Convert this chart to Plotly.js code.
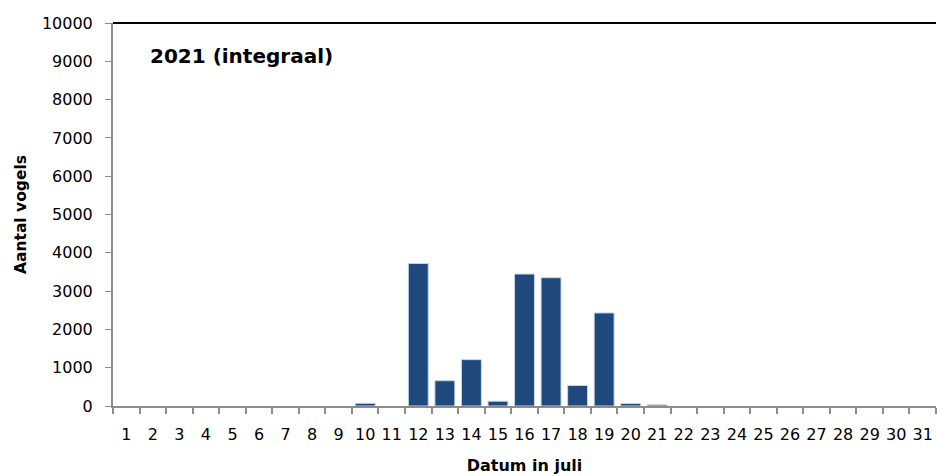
<!DOCTYPE html>
<html>
<head>
<meta charset="utf-8">
<script src="https://cdn.plot.ly/plotly-3.0.1.min.js"></script>
<style>html,body{margin:0;padding:0;background:#fff;}#chart{width:937px;height:476px;}</style>
</head>
<body>
<div id="chart"></div>
<script>
const days = ["1","2","3","4","5","6","7","8","9","10","11","12","13","14","15","16","17","18","19","20","21","22","23","24","25","26","27","28","29","30","31"];
const birds = [0,0,0,0,0,0,0,0,0,70,0,3720,660,1210,125,3445,3350,535,2430,65,30,0,0,0,0,0,0,0,0,0,0];
const yTicks = [0,1000,2000,3000,4000,5000,6000,7000,8000,9000,10000];
const chartTitle = "2021 (integraal)";
const xTitle = "Datum in juli";
const yTitle = "Aantal vogels";

const font = "'DejaVu Sans', sans-serif";
const trace = {
  type: "bar",
  x: days,
  y: birds,
  marker: {color: "#1f497d", line: {color: "#c5d3e6", width: birds.map(v => v > 0 ? 1 : 0)}},
  hoverinfo: "x+y"
};
const layout = {
  width: 937, height: 476,
  margin: {l: 113, r: 1, t: 23, b: 70},
  paper_bgcolor: "#fff", plot_bgcolor: "#fff",
  bargap: 0.25,
  showlegend: false,
  font: {family: font, color: "#000", size: 16},
  xaxis: {
    type: "category",
    range: [-0.5, 30.5],
    tickson: "boundaries",
    tickangle: 0,
    ticks: "outside", ticklen: 6, tickwidth: 2, tickcolor: "#8c8c8c",
    showline: true, linecolor: "#8c8c8c", linewidth: 2,
    showgrid: false, zeroline: false,
    ticklabelstandoff: 13,
    tickfont: {family: font, size: 16, color: "#000"},
    title: {text: xTitle, font: {family: font, size: 16, color: "#000", weight: "bold"}, standoff: 17}
  },
  yaxis: {
    range: [0, 10000],
    tickvals: yTicks,
    ticktext: yTicks.map(String),
    ticks: "outside", ticklen: 6, tickwidth: 1, tickcolor: "#8c8c8c",
    showline: true, linecolor: "#8c8c8c", linewidth: 2,
    showgrid: false, zeroline: false,
    ticklabelstandoff: 9,
    tickfont: {family: font, size: 16, color: "#000"},
    title: {text: yTitle, font: {family: font, size: 15.5, color: "#000", weight: "bold"}, standoff: 11}
  },
  shapes: [{type: "line", xref: "paper", yref: "paper", x0: 0, x1: 1, y0: 1, y1: 1, line: {color: "#000", width: 2}}],
  annotations: [{
    text: chartTitle, xref: "paper", yref: "paper", x: 0.043, y: 0.915,
    xanchor: "left", yanchor: "middle", showarrow: false,
    font: {family: font, size: 20, color: "#000", weight: "bold"}
  }]
};
Plotly.newPlot("chart", [trace], layout, {displayModeBar: false, staticPlot: true});
</script>
</body>
</html>
